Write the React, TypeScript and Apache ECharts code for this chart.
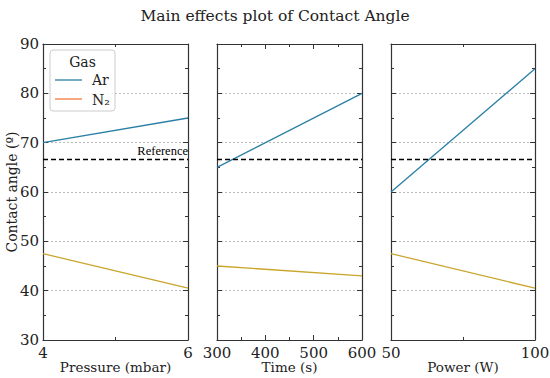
import React, { useEffect, useRef } from "react";
import * as echarts from "echarts";

const panelNames = ["Pressure (mbar)", "Time (s)", "Power (W)"];
const pressureX = [4, 6];
const timeX = [300, 600];
const powerX = [50, 100];
const arPressure = [70, 75];
const n2Pressure = [47.5, 40.5];
const arTime = [65, 80];
const n2Time = [45, 43];
const arPower = [60, 85];
const n2Power = [47.5, 40.5];
const referenceValue = 66.6;
const yTicks = [30, 40, 50, 60, 70, 80, 90];

const FONT = "DejaVu Serif";
const AR = "#2a7fa6";
const N2 = "#c9a52a";
const N2_LEGEND = "#f5793a";

export default function App() {
  const ref = useRef<HTMLDivElement>(null);
  useEffect(() => {
    if (!ref.current) return;
    const chart = echarts.init(ref.current, null, { renderer: "svg" });
    const xs = [pressureX, timeX, powerX];
    const ars = [arPressure, arTime, arPower];
    const n2s = [n2Pressure, n2Time, n2Power];
    const intervals = [2, 100, 50];
    const lefts = [43, 217, 391];
    const widths = [145, 145, 144];
    const grids = lefts.map((l, i) => ({
      left: l, width: widths[i], top: 44, height: 296,
      containLabel: false, outerBoundsMode: "none",
    }));
    const xAxis: any[] = [];
    const yAxis: any[] = [];
    const series: any[] = [];
    const tickStyle = { lineStyle: { color: "#333", width: 1 } };
    for (let i = 0; i < 3; i++) {
      const base = {
        type: "value",
        gridIndex: i,
        min: xs[i][0],
        max: xs[i][1],
        interval: intervals[i],
        axisLine: { show: true, onZero: false, lineStyle: { color: "#333", width: 1.2 } },
        axisTick: { show: true, inside: true, length: 5, ...tickStyle },
        minorTick: { show: true, splitNumber: 2, length: 3, ...tickStyle },
        splitLine: { show: false },
      };
      xAxis.push({
        ...base,
        position: "bottom",
        name: panelNames[i],
        nameLocation: "middle",
        nameGap: 27,
        nameMoveOverlap: false,
        nameTextStyle: { fontFamily: FONT, fontSize: 13.5, color: "#222", verticalAlign: "middle" },
        axisLabel: { fontFamily: FONT, fontSize: 15, color: "#222", margin: 5 },
      });
      xAxis.push({ ...base, position: "top", axisLabel: { show: false } });
      const ybase = {
        type: "value",
        gridIndex: i,
        min: yTicks[0],
        max: yTicks[yTicks.length - 1],
        interval: yTicks[1] - yTicks[0],
        axisLine: { show: true, onZero: false, lineStyle: { color: "#333", width: 1.2 } },
        axisTick: { show: true, inside: true, length: 5, ...tickStyle },
        minorTick: { show: true, splitNumber: 2, length: 3, ...tickStyle },
      };
      yAxis.push({
        ...ybase,
        position: "left",
        name: i === 0 ? "Contact angle (º)" : "",
        nameLocation: "middle",
        nameGap: 31,
        nameMoveOverlap: false,
        nameTextStyle: { fontFamily: FONT, fontSize: 14, color: "#222", verticalAlign: "middle" },
        axisLabel: { show: i === 0, fontFamily: FONT, fontSize: 15, color: "#222", margin: 4 },
        splitLine: { show: true, lineStyle: { color: "#aaa", type: [2, 2], width: 0.8 } },
      });
      yAxis.push({ ...ybase, position: "right", axisLabel: { show: false }, splitLine: { show: false } });
      series.push({
        type: "line",
        name: "Ar",
        xAxisIndex: i * 2,
        yAxisIndex: i * 2,
        data: xs[i].map((x, k) => [x, ars[i][k]]),
        showSymbol: false,
        lineStyle: { color: AR, width: 1.3 },
        markLine: {
          silent: true,
          symbol: "none",
          lineStyle: { color: "#000", type: [5, 3], width: 1.4 },
          label: i === 0
            ? { show: true, position: "insideEndTop", formatter: "Reference", fontFamily: "Liberation Serif", fontSize: 12.5, color: "#000", distance: [0, 2] }
            : { show: false },
          data: [{ yAxis: referenceValue }],
        },
      });
      series.push({
        type: "line",
        name: "N2",
        xAxisIndex: i * 2,
        yAxisIndex: i * 2,
        data: xs[i].map((x, k) => [x, n2s[i][k]]),
        showSymbol: false,
        lineStyle: { color: N2, width: 1.3 },
      });
    }
    chart.setOption({
      animation: false,
      backgroundColor: "#fff",
      title: {
        text: "Main effects plot of Contact Angle",
        left: "center",
        top: 3,
        textStyle: { fontFamily: FONT, fontSize: 15.5, fontWeight: "normal", color: "#222" },
      },
      grid: grids,
      xAxis,
      yAxis,
      series,
      graphic: [
        { type: "rect", shape: { x: 50, y: 50, width: 65, height: 61, r: 3 }, style: { fill: "rgba(255,255,255,0.85)", stroke: "#ccc", lineWidth: 1 }, z: 10 },
        { type: "text", x: 82.5, y: 62, style: { text: "Gas", fontFamily: FONT, fontSize: 14, fill: "#222", align: "center", verticalAlign: "middle" }, z: 11 },
        { type: "line", shape: { x1: 55, y1: 80, x2: 82, y2: 80 }, style: { stroke: AR, lineWidth: 1.3 }, z: 11 },
        { type: "text", x: 92, y: 80, style: { text: "Ar", fontFamily: FONT, fontSize: 14, fill: "#222", verticalAlign: "middle" }, z: 11 },
        { type: "line", shape: { x1: 55, y1: 99, x2: 82, y2: 99 }, style: { stroke: N2_LEGEND, lineWidth: 1.3 }, z: 11 },
        { type: "text", x: 92, y: 100, style: { text: "N₂", fontFamily: FONT, fontSize: 14, fill: "#222", verticalAlign: "middle" }, z: 11 },
      ],
    });
    return () => chart.dispose();
  }, []);
  return <div ref={ref} style={{ width: 550, height: 378, position: "absolute", left: 0, top: 0 }} />;
}
